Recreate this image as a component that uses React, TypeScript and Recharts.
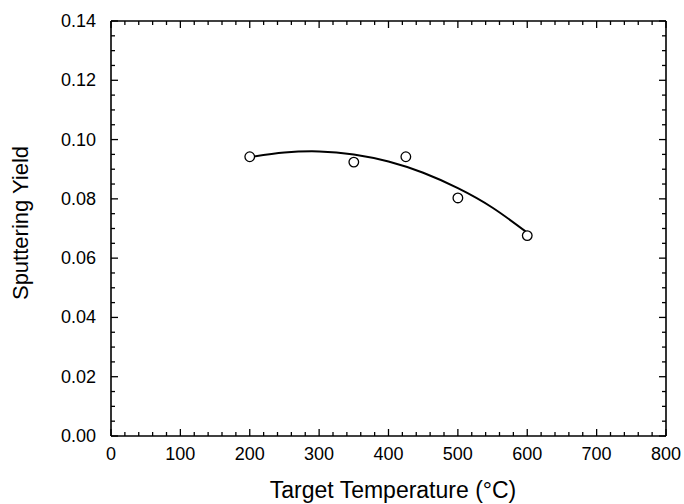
import { ComposedChart, Line, Scatter, XAxis, YAxis } from 'recharts'

// measured points
const temps = [200, 350, 425, 500, 600]
const yields = [0.0942, 0.0924, 0.0942, 0.0803, 0.0676]

// fitted curve
const curveTemps = [200, 250, 300, 350, 400, 450, 500, 550, 600]
const curveYields = [0.0941, 0.0956, 0.096, 0.095, 0.0926, 0.0888, 0.0836, 0.077, 0.0686]

const xMajor = [0, 100, 200, 300, 400, 500, 600, 700, 800]
const yMajor = [0, 0.02, 0.04, 0.06, 0.08, 0.1, 0.12, 0.14]
const xTicks = Array.from({ length: 41 }, (_, i) => i * 20)
const yTicks = Array.from({ length: 29 }, (_, i) => Math.round(i * 5) / 1000)

const points = temps.map((t, i) => ({ t, y: yields[i] }))
const curve = curveTemps.map((t, i) => ({ t, y: curveYields[i] }))

const font = '"Liberation Sans", Arial, Helvetica, sans-serif'

const isMajorX = (v: number) => xMajor.includes(v)
const isMajorY = (v: number) => yMajor.some((m) => Math.abs(m - v) < 1e-9)

// axis ticks get tickSize 1, so the axis line sits 1px from (x, y)
const BottomTick = (p: any) => {
  const major = isMajorX(p.payload.value)
  const y0 = p.y - 1
  return (
    <g>
      <line x1={p.x} x2={p.x} y1={y0} y2={y0 - (major ? 7 : 4)} stroke="#000" strokeWidth={1.3} />
      {major && (
        <text x={p.x} y={y0 + 24} textAnchor="middle" fontSize={18} fontFamily={font} fill="#000">
          {p.payload.value}
        </text>
      )}
    </g>
  )
}

const TopTick = (p: any) => {
  const major = isMajorX(p.payload.value)
  const y0 = p.y + 1
  return <line x1={p.x} x2={p.x} y1={y0} y2={y0 + (major ? 7 : 4)} stroke="#000" strokeWidth={1.3} />
}

const LeftTick = (p: any) => {
  const major = isMajorY(p.payload.value)
  const x0 = p.x + 1
  return (
    <g>
      <line x1={x0} x2={x0 + (major ? 7 : 4)} y1={p.y} y2={p.y} stroke="#000" strokeWidth={1.3} />
      {major && (
        <text x={x0 - 15} y={p.y + 6} textAnchor="end" fontSize={18} fontFamily={font} fill="#000">
          {p.payload.value.toFixed(2)}
        </text>
      )}
    </g>
  )
}

const RightTick = (p: any) => {
  const major = isMajorY(p.payload.value)
  const x0 = p.x - 1
  return <line x1={x0} x2={x0 - (major ? 7 : 4)} y1={p.y} y2={p.y} stroke="#000" strokeWidth={1.3} />
}

const Circle = (p: any) => (
  <circle cx={p.cx} cy={p.cy} r={4.8} fill="#fff" stroke="#000" strokeWidth={1.3} />
)

const App = () => {
  return (
    <div style={{ position: 'absolute', left: 0, top: 0, width: 684, height: 504, background: '#fff' }}>
      <ComposedChart width={684} height={504} margin={{ top: 20, right: 17, bottom: 0, left: 0 }}>
        <XAxis
          xAxisId="b"
          dataKey="t"
          type="number"
          domain={[0, 800]}
          ticks={xTicks}
          interval={0}
          height={68}
          tickSize={1}
          tickMargin={0}
          tickLine={false}
          tick={<BottomTick />}
          axisLine={{ stroke: '#000', strokeWidth: 1.6 }}
          label={{
            content: () => (
              <text x={393} y={498} textAnchor="middle" fontSize={23} fontFamily={font} fill="#000">
                Target Temperature (°C)
              </text>
            )
          }}
        />
        <XAxis
          xAxisId="t"
          orientation="top"
          dataKey="t"
          type="number"
          domain={[0, 800]}
          ticks={xTicks}
          interval={0}
          height={1}
          tickSize={1}
          tickMargin={0}
          tickLine={false}
          tick={<TopTick />}
          axisLine={{ stroke: '#000', strokeWidth: 1.6 }}
        />
        <YAxis
          yAxisId="l"
          type="number"
          domain={[0, 0.14]}
          ticks={yTicks}
          interval={0}
          width={111}
          tickSize={1}
          tickMargin={0}
          tickLine={false}
          tick={<LeftTick />}
          axisLine={{ stroke: '#000', strokeWidth: 1.6 }}
          label={{
            content: () => (
              <text
                x={28}
                y={223}
                transform="rotate(-90 28 223)"
                textAnchor="middle"
                fontSize={22}
                fontFamily={font}
                fill="#000"
              >
                Sputtering Yield
              </text>
            )
          }}
        />
        <YAxis
          yAxisId="r"
          orientation="right"
          type="number"
          domain={[0, 0.14]}
          ticks={yTicks}
          interval={0}
          width={1}
          tickSize={1}
          tickMargin={0}
          tickLine={false}
          tick={<RightTick />}
          axisLine={{ stroke: '#000', strokeWidth: 1.6 }}
        />
        {/* the curve sits on the top/right axes so they get ticks too; same domains as bottom/left */}
        <Line
          xAxisId="t"
          yAxisId="r"
          data={curve}
          dataKey="y"
          type="natural"
          stroke="#000"
          strokeWidth={2}
          dot={false}
          isAnimationActive={false}
        />
        <Scatter
          xAxisId="b"
          yAxisId="l"
          data={points}
          dataKey="y"
          shape={<Circle />}
          isAnimationActive={false}
        />
      </ComposedChart>
    </div>
  )
}

export default App
